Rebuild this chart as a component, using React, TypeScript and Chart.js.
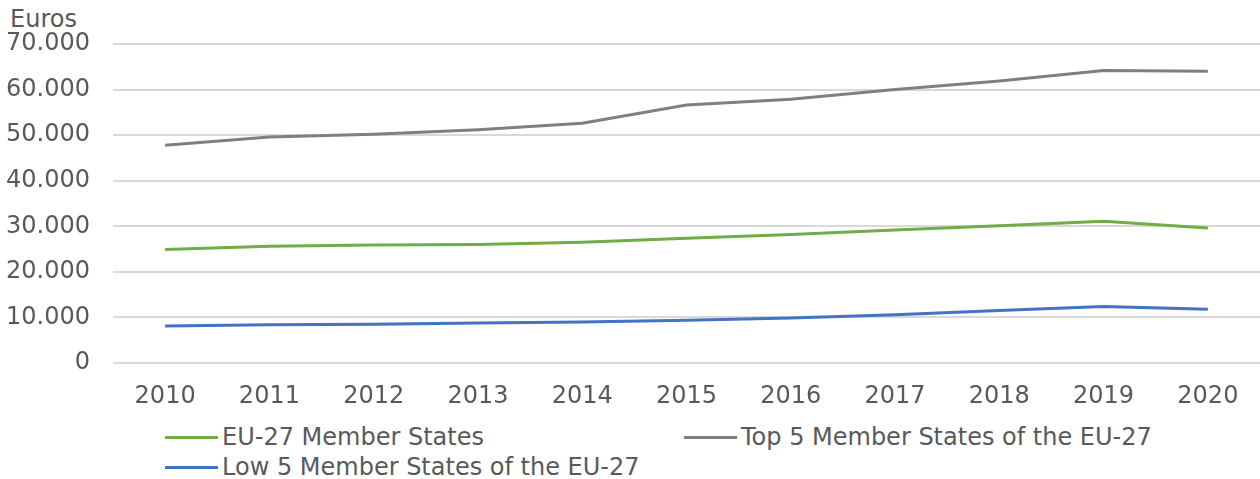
import React, { useEffect, useRef } from "react";
import { Chart, registerables } from "chart.js";

Chart.register(...registerables);

const years = ["2010", "2011", "2012", "2013", "2014", "2015", "2016", "2017", "2018", "2019", "2020"];
const eu27 = [24900, 25600, 25900, 26000, 26500, 27400, 28200, 29200, 30100, 31100, 29600];
const top5 = [47800, 49600, 50200, 51200, 52600, 56600, 57900, 60000, 61900, 64200, 64000];
const low5 = [8100, 8400, 8500, 8800, 9000, 9400, 9900, 10600, 11500, 12400, 11800];

const seriesNames = ["EU-27 Member States", "Top 5 Member States of the EU-27", "Low 5 Member States of the EU-27"];
const seriesColors = ["#70AD47", "#7F7F7F", "#4472C4"];

const FONT = "'DejaVu Sans', Verdana, sans-serif";
const TEXT = "#595959";
const FS = 24;

export default function App() {
  const canvasRef = useRef<HTMLCanvasElement | null>(null);

  useEffect(() => {
    document.body.style.margin = "0";
    const ctx = canvasRef.current!;
    const chart = new Chart(ctx, {
      type: "line",
      data: {
        labels: years,
        datasets: [eu27, top5, low5].map((d, i) => ({
          label: seriesNames[i],
          data: d,
          borderColor: seriesColors[i],
          backgroundColor: seriesColors[i],
          borderWidth: 3,
          pointRadius: 0,
          tension: 0,
          fill: false,
        })),
      },
      options: {
        animation: false,
        responsive: true,
        maintainAspectRatio: false,
        layout: { padding: { top: 44, left: 0, right: 0, bottom: 0 } },
        plugins: { legend: { display: false }, tooltip: { enabled: false } },
        scales: {
          x: {
            offset: true,
            grid: { display: false, drawTicks: false },
            border: { display: false },
            ticks: { color: TEXT, font: { family: FONT, size: FS }, padding: 19, maxRotation: 0 },
            afterFit: (s: any) => { s.height = 50; },
          },
          y: {
            min: 0,
            max: 70000,
            ticks: {
              stepSize: 10000,
              color: TEXT,
              font: { family: FONT, size: FS },
              padding: 23,
              callback: (v: any) => Number(v).toLocaleString("de-DE"),
            },
            grid: { color: "#D9D9D9", lineWidth: 2, drawTicks: false },
            border: { display: false },
            afterFit: (s: any) => { s.width = 113; },
          },
        },
      },
    });
    return () => chart.destroy();
  }, []);

  const legendItem = (i: number, left: number, top: number) => (
    <div
      key={i}
      style={{ position: "absolute", left, top, height: 30, display: "flex", alignItems: "center", whiteSpace: "nowrap" }}
    >
      <div style={{ width: 53, height: 3, background: seriesColors[i], marginRight: 4 }} />
      <span style={{ fontFamily: FONT, fontSize: FS, color: TEXT }}>{seriesNames[i]}</span>
    </div>
  );

  return (
    <div style={{ position: "relative", width: 1260, height: 479, background: "#fff" }}>
      <div style={{ position: "absolute", left: 10, top: 4, fontFamily: FONT, fontSize: FS, color: TEXT, lineHeight: "30px" }}>Euros</div>
      <div style={{ position: "absolute", left: 0, top: 0, width: 1260, height: 413 }}>
        <canvas ref={canvasRef} />
      </div>
      {legendItem(0, 165, 422)}
      {legendItem(1, 684, 422)}
      {legendItem(2, 165, 452)}
    </div>
  );
}
